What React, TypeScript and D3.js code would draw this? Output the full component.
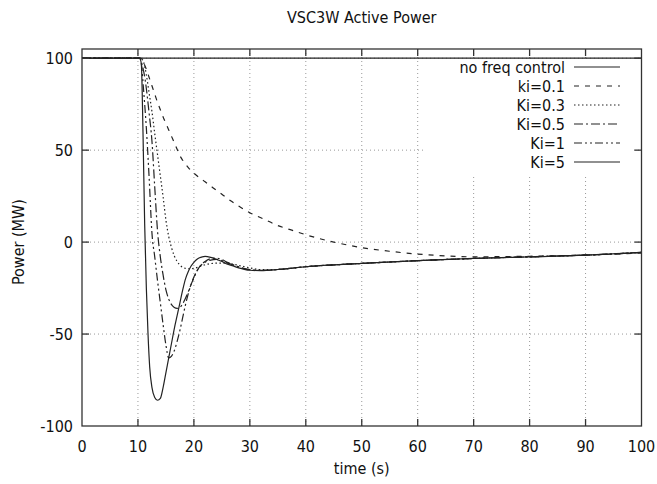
import React from 'react';
import * as d3 from 'd3';

// series (time in s, power in MW)
const tNoFreq = [0, 100];
const pNoFreq = [100, 100];

const tKi01 = [0, 10.5, 11, 11.5, 12, 12.5, 13, 13.5, 14, 14.5, 15, 15.5, 16, 16.5, 17, 17.5, 18, 19, 20, 21, 22, 23, 24, 25, 26.5, 28, 30, 32.5, 35, 37.5, 40, 45, 50, 55, 60, 65, 70, 80, 90, 100];
const pKi01 = [100, 100, 97.5, 94, 89.5, 85, 80.5, 76, 72, 68, 64.5, 61, 57.5, 54, 50.5, 47, 44.5, 40.5, 37.5, 35, 32.8, 30.5, 28.2, 26, 22.6, 19.6, 16, 12.5, 9, 6.5, 4, 0, -3, -5, -6.5, -7.5, -8, -7.7, -7, -6];

const tKi03 = [0, 10.3, 10.7, 11, 11.5, 12, 12.5, 13, 13.5, 14, 14.5, 15, 15.5, 16, 16.5, 17, 17.5, 18, 19, 20, 21, 22, 23, 24, 25, 26, 27, 28, 30, 32, 35, 40, 50, 60, 70, 80, 90, 100];
const pKi03 = [100, 100, 99.5, 98, 91, 81, 71, 59, 47.5, 36, 24.5, 12, 3, -3, -7.5, -10.5, -12.5, -13.7, -14.5, -14.3, -13.3, -12.3, -11.7, -11.4, -11.4, -11.6, -12, -12.7, -14, -15, -14.9, -13.4, -11.6, -10.1, -8.9, -8, -7.1, -5.6];

const tKi05 = [0, 10.3, 10.7, 11.3, 12, 12.5, 13, 13.5, 14, 14.5, 15, 15.5, 16, 16.5, 17, 17.5, 18, 18.5, 19, 19.5, 20, 20.5, 21, 22, 23, 24, 25, 26, 27, 28, 30, 32, 35, 40, 50, 60, 70, 80, 90, 100];
const pKi05 = [100, 100, 97, 88, 70, 55, 30, 6, -8, -18, -26, -31, -34, -35.5, -36, -35.5, -33.5, -30.5, -27, -23, -19.5, -16, -13.5, -11, -9.8, -9.4, -10, -11.3, -12.5, -13.5, -15, -15.4, -14.9, -13.4, -11.6, -10.1, -8.9, -8, -7.1, -5.6];

const tKi1 = [0, 10.3, 10.6, 11, 11.5, 12, 12.5, 13, 13.5, 14, 14.5, 15, 15.5, 16, 16.5, 17, 17.5, 18, 18.5, 19, 19.5, 20, 20.5, 21, 22, 23, 24, 25, 26, 27, 28, 30, 32, 35, 40, 50, 60, 70, 80, 90, 100];
const pKi1 = [100, 100, 97, 83, 62, 35, 5, -8, -21, -33, -45, -56, -63, -62, -59, -54, -48, -41, -34, -28, -23, -19, -16, -13.5, -10.5, -9, -8.7, -9.5, -11, -12.3, -13.5, -15, -15.4, -14.9, -13.4, -11.6, -10.1, -8.9, -8, -7.1, -5.6];

const tKi5 = [0, 10.3, 10.6, 10.9, 11.2, 11.5, 11.8, 12.1, 12.5, 13, 13.5, 14, 14.5, 15, 15.5, 16, 16.5, 17, 17.5, 18, 18.5, 19, 19.5, 20, 20.5, 21, 21.5, 22, 23, 24, 25, 26, 27, 28, 29, 30, 32, 35, 40, 50, 60, 70, 80, 90, 100];
const pKi5 = [100, 100, 97, 60, 10, -25, -50, -68, -79, -84.5, -86, -85, -79, -71, -63, -55, -47, -40, -33, -26, -20, -16, -13, -11, -9.5, -8.5, -8, -7.8, -8.3, -9.3, -10.5, -12, -13, -14, -14.8, -15.3, -15.5, -14.9, -13.4, -11.6, -10.1, -8.9, -8, -7.1, -5.6];

const seriesNames = ['no freq control', 'ki=0.1', 'Ki=0.3', 'Ki=0.5', 'Ki=1', 'Ki=5'];
const seriesT = [tNoFreq, tKi01, tKi03, tKi05, tKi1, tKi5];
const seriesP = [pNoFreq, pKi01, pKi03, pKi05, pKi1, pKi5];
const dashes = ['none', '5,6', '1.5,2.5', '9,3,2,3', '8,3,2,3,2,3', 'none'];

const xTicks = [0, 10, 20, 30, 40, 50, 60, 70, 80, 90, 100];
const yTicks = [-100, -50, 0, 50, 100];

const W = 657;
const H = 484;
const left = 82;
const right = 641.5;
const top = 49;
const bottom = 426;

const font = "'DejaVu Sans Condensed', 'DejaVu Sans', sans-serif";

export default function App() {
  const x = d3.scaleLinear().domain([0, 100]).range([left, right]);
  const y = d3.scaleLinear().domain([-100, 105]).range([bottom, top]);

  const line = d3.line<[number, number]>()
    .x(d => x(d[0]))
    .y(d => y(d[1]))
    .curve(d3.curveMonotoneX);

  const keyX1 = 574;
  const keyX2 = 620;
  const keyY0 = 67;
  const keyStep = 19;

  return (
    <svg width={W} height={H} style={{ position: 'absolute', left: 0, top: 0, background: '#fff' }}
      fontFamily={font} fontStretch="condensed">
      {/* grid */}
      <g stroke="#999" strokeWidth={1} strokeDasharray="1,3">
        {xTicks.slice(1, -1).map(t => (
          <line key={'gx' + t} x1={x(t)} x2={x(t)} y1={top} y2={bottom} />
        ))}
        {yTicks.slice(1).map(t => (
          <line key={'gy' + t} x1={left} x2={right} y1={y(t)} y2={y(t)} />
        ))}
      </g>

      {/* opaque key box */}
      <rect x={424} y={60} width={208} height={116} fill="#fff" />

      {/* curves */}
      <g fill="none" stroke="#222" strokeWidth={1.2}>
        {seriesNames.map((name, i) => (
          <path key={name}
            d={line(seriesT[i].map((t, j) => [t, seriesP[i][j]] as [number, number])) || ''}
            strokeDasharray={dashes[i]} />
        ))}
      </g>

      {/* key */}
      <g fontSize={16} fill="#111">
        {seriesNames.map((name, i) => (
          <g key={'k' + name}>
            <text x={565} y={keyY0 + i * keyStep} dy="0.35em" textAnchor="end">{name}</text>
            <line x1={keyX1} x2={keyX2} y1={keyY0 + i * keyStep} y2={keyY0 + i * keyStep}
              stroke="#222" strokeWidth={1.2} strokeDasharray={dashes[i]} />
          </g>
        ))}
      </g>

      {/* border and ticks */}
      <g stroke="#333" strokeWidth={1.3}>
        <rect x={left} y={top} width={right - left} height={bottom - top} fill="none" />
        {xTicks.slice(1, -1).map(t => (
          <g key={'tx' + t}>
            <line x1={x(t)} x2={x(t)} y1={bottom} y2={bottom - 7} />
            <line x1={x(t)} x2={x(t)} y1={top} y2={top + 7} />
          </g>
        ))}
        {yTicks.slice(1).map(t => (
          <g key={'ty' + t}>
            <line x1={left} x2={left + 7} y1={y(t)} y2={y(t)} />
            <line x1={right} x2={right - 7} y1={y(t)} y2={y(t)} />
          </g>
        ))}
      </g>

      {/* tick labels */}
      <g fontSize={16} fill="#111">
        {xTicks.map(t => (
          <text key={'lx' + t} x={x(t)} y={446} dy="0.35em" textAnchor="middle">{t}</text>
        ))}
        {yTicks.map(t => (
          <text key={'ly' + t} x={73} y={y(t)} dy="0.35em" textAnchor="end">{t}</text>
        ))}
      </g>

      <text x={(left + right) / 2} y={17} dy="0.35em" textAnchor="middle" fontSize={16} fill="#111">VSC3W Active Power</text>
      <text x={(left + right) / 2} y={468} dy="0.35em" textAnchor="middle" fontSize={16} fill="#111">time (s)</text>
      <text transform={`translate(18,${y(0)}) rotate(-90)`} dy="0.35em" textAnchor="middle" fontSize={16} fill="#111">Power (MW)</text>
    </svg>
  );
}
